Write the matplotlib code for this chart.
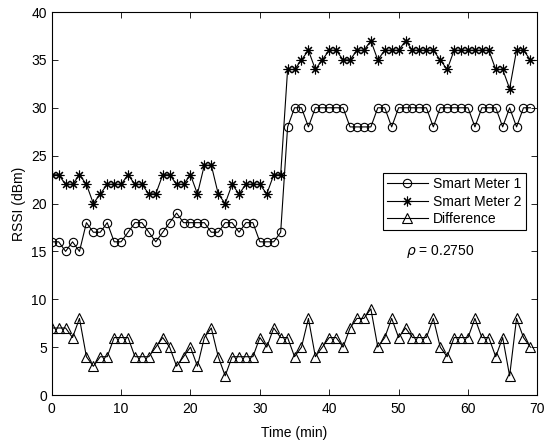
import matplotlib.pyplot as plt

plt.rcParams['font.family'] = ['Liberation Sans', 'DejaVu Sans']

time_min = list(range(70))

meter1 = [16, 16, 15, 16, 15, 18, 17, 17, 18, 16, 16, 17, 18, 18, 17, 16, 17, 18,
          19, 18, 18, 18, 18, 17, 17, 18, 18, 17, 18, 18, 16, 16, 16, 17,
          28, 30, 30, 28, 30, 30, 30, 30, 30, 28, 28, 28, 28, 30, 30, 28, 30, 30,
          30, 30, 30, 28, 30, 30, 30, 30, 30, 28, 30, 30, 30, 28, 30, 28, 30, 30]

meter2 = [23, 23, 22, 22, 23, 22, 20, 21, 22, 22, 22, 23, 22, 22, 21, 21, 23, 23,
          22, 22, 23, 21, 24, 24, 21, 20, 22, 21, 22, 22, 22, 21, 23, 23,
          34, 34, 35, 36, 34, 35, 36, 36, 35, 35, 36, 36, 37, 35, 36, 36, 36, 37,
          36, 36, 36, 36, 35, 34, 36, 36, 36, 36, 36, 36, 34, 34, 32, 36, 36, 35]

difference = [7, 7, 7, 6, 8, 4, 3, 4, 4, 6, 6, 6, 4, 4, 4, 5, 6, 5,
              3, 4, 5, 3, 6, 7, 4, 2, 4, 4, 4, 4, 6, 5, 7, 6,
              6, 4, 5, 8, 4, 5, 6, 6, 5, 7, 8, 8, 9, 5, 6, 8, 6, 7,
              6, 6, 6, 8, 5, 4, 6, 6, 6, 8, 6, 6, 4, 6, 2, 8, 6, 5]

rho = 0.2750

fig = plt.figure(figsize=(5.45, 4.47), dpi=100)
ax = fig.add_axes([0.0949, 0.1163, 0.8911, 0.8568])

style = dict(color='black', lw=0.8, mfc='none', mec='black', mew=0.8)
ax.plot(time_min, meter1, marker='o', ms=6, label='Smart Meter 1', **style)
ax.plot(time_min, meter2, marker=(8, 2, 0), ms=7, label='Smart Meter 2', **style)
ax.plot(time_min, difference, marker='^', ms=7, label='Difference', **style)

ax.set_xlim(0, 70)
ax.set_ylim(0, 40)
ax.set_xticks(range(0, 71, 10))
ax.set_yticks(range(0, 41, 5))
ax.tick_params(direction='in', top=True, right=True, labelsize=10, length=4, width=0.6)
ax.tick_params(axis='x', pad=5)
for s in ax.spines.values():
    s.set_linewidth(0.8)

ax.set_xlabel('Time (min)', fontsize=10, labelpad=7)
ax.set_ylabel('RSSI (dBm)', fontsize=10, labelpad=4)

leg = ax.legend(loc='upper left', bbox_to_anchor=(0.668, 0.598), fontsize=10,
                frameon=True, fancybox=False, edgecolor='black', framealpha=1,
                handlelength=2.9, borderpad=0.3, labelspacing=0.25, handletextpad=0.4)
leg.get_frame().set_linewidth(0.8)

ax.text(0.800, 0.375, r'$\rho$ = %.4f' % rho, transform=ax.transAxes,
        ha='center', va='center', fontsize=10)

fig.savefig('out.png', dpi=100)
